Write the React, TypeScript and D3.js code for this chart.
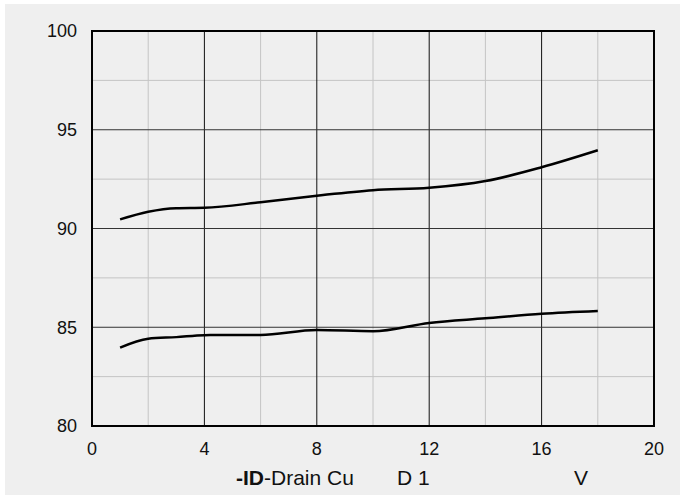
import React from "react";
import * as d3 from "d3";

const xValues = [1, 2, 3, 4, 6, 8, 10, 12, 14, 16, 18];
const upperSeries = [90.46, 90.85, 91.03, 91.05, 91.33, 91.66, 91.94, 92.06, 92.4, 93.1, 93.96];
const lowerSeries = [83.97, 84.42, 84.5, 84.6, 84.61, 84.86, 84.8, 85.22, 85.45, 85.68, 85.82];
const xTicks = [0, 4, 8, 12, 16, 20];
const xMinor = [2, 6, 10, 14, 18];
const yTicks = [80, 85, 90, 95, 100];
const yMinor = [82.5, 87.5, 92.5, 97.5];

export default function App() {
  const W = 680, H = 495;
  const left = 92, right = 654, top = 31, bottom = 426;
  const x = d3.scaleLinear().domain([0, 20]).range([left, right]);
  const y = d3.scaleLinear().domain([80, 100]).range([bottom, top]);
  const line = d3
    .line<number>()
    .x((_, i) => x(xValues[i]))
    .y((d) => y(d))
    .curve(d3.curveMonotoneX);
  const font = "'Liberation Sans', Arial, sans-serif";
  return (
    <svg width={W} height={H} style={{ position: "absolute", left: 0, top: 0 }} fontFamily={font}>
      <rect x={0} y={0} width={W} height={H} fill="#ffffff" />
      <rect x={5} y={4} width={W - 5} height={H - 4} fill="#efefef" />
      {xMinor.map((v) => (
        <line key={"xm" + v} x1={x(v)} x2={x(v)} y1={top} y2={bottom} stroke="#c4c4c4" strokeWidth={1} />
      ))}
      {yMinor.map((v) => (
        <line key={"ym" + v} x1={left} x2={right} y1={y(v)} y2={y(v)} stroke="#c4c4c4" strokeWidth={1} />
      ))}
      {xTicks.slice(1, -1).map((v) => (
        <line key={"xg" + v} x1={x(v)} x2={x(v)} y1={top} y2={bottom} stroke="#111" strokeWidth={1} />
      ))}
      {yTicks.slice(1, -1).map((v) => (
        <line key={"yg" + v} x1={left} x2={right} y1={y(v)} y2={y(v)} stroke="#333" strokeWidth={1} />
      ))}
      <rect x={left} y={top} width={right - left} height={bottom - top} fill="none" stroke="#000" strokeWidth={2} />
      <path d={line(upperSeries) || ""} fill="none" stroke="#000" strokeWidth={2.5} />
      <path d={line(lowerSeries) || ""} fill="none" stroke="#000" strokeWidth={2.5} />
      {yTicks.map((v) => (
        <text key={"yl" + v} x={77} y={y(v)} dy="0.35em" textAnchor="end" fontSize={18} fill="#111">
          {v}
        </text>
      ))}
      {xTicks.map((v) => (
        <text key={"xl" + v} x={x(v)} y={449} dy="0.35em" textAnchor="middle" fontSize={18} fill="#111">
          {v}
        </text>
      ))}
      <text x={236} y={478} dy="0.35em" fontSize={21} fill="#111">
        <tspan fontWeight="bold">-ID</tspan>
        <tspan>-Drain Cu</tspan>
      </text>
      <text x={397} y={478} dy="0.35em" fontSize={21} fill="#111">D 1</text>
      <text x={574} y={478} dy="0.35em" fontSize={21} fill="#111">V</text>
    </svg>
  );
}
